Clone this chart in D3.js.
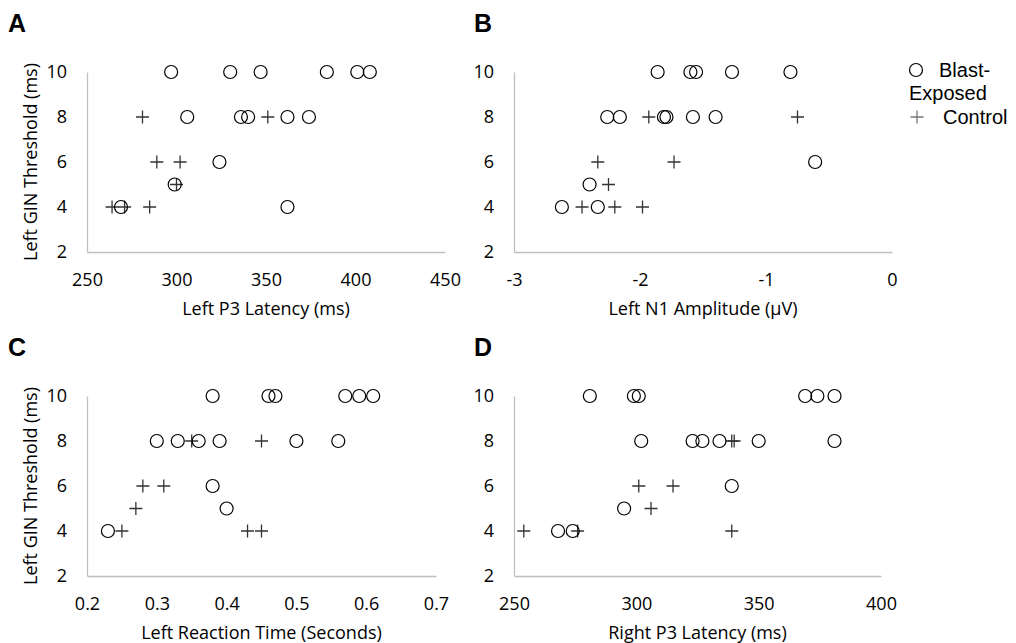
<!DOCTYPE html>
<html>
<head>
<meta charset="utf-8">
<script src="https://cdn.jsdelivr.net/npm/d3@7"></script>
<style>
  body { margin: 0; background: #fff; }
  svg { display: block; }
  .tick text { font-family: "Open Sans", sans-serif; font-size: 18px; fill: #000; }
  .title { font-family: "Open Sans", sans-serif; font-size: 18px; fill: #000; }
  .letter { font-family: "Liberation Sans", Arial, sans-serif; font-size: 25px; font-weight: bold; }
  .legend { font-family: "Liberation Sans", Arial, sans-serif; font-size: 20px; }
</style>
</head>
<body>
<svg width="1016" height="643"></svg>
<script>
// y values are the Left GIN threshold (ms)
var yTicks = [2, 4, 6, 8, 10];

// A: Left P3 latency
var aBlastX = [297, 330, 347, 384, 401, 408, 306, 336, 340, 362, 374, 324, 299, 269, 362];
var aBlastY = [10, 10, 10, 10, 10, 10, 8, 8, 8, 8, 8, 6, 5, 4, 4];
var aCtrlX = [281, 351, 289, 302, 300, 264, 271, 285];
var aCtrlY = [8, 8, 6, 6, 5, 4, 4, 4];
var aTicks = [250, 300, 350, 400, 450];

// B: Left N1 amplitude
var bBlastX = [-1.86, -1.60, -1.555, -1.27, -0.806, -2.26, -2.16, -1.81, -1.79, -1.58, -1.40, -0.61, -2.40, -2.62, -2.335];
var bBlastY = [10, 10, 10, 10, 10, 8, 8, 8, 8, 8, 8, 6, 5, 4, 4];
var bCtrlX = [-1.93, -0.75, -2.335, -1.73, -2.25, -2.46, -2.20, -1.98];
var bCtrlY = [8, 8, 6, 6, 5, 4, 4, 4];
var bTicks = [-3, -2, -1, 0];

// C: Left reaction time
var cBlastX = [0.38, 0.46, 0.47, 0.57, 0.59, 0.61, 0.30, 0.33, 0.36, 0.39, 0.50, 0.56, 0.38, 0.40, 0.23];
var cBlastY = [10, 10, 10, 10, 10, 10, 8, 8, 8, 8, 8, 8, 6, 5, 4];
var cCtrlX = [0.35, 0.45, 0.28, 0.31, 0.27, 0.25, 0.43, 0.45];
var cCtrlY = [8, 8, 6, 6, 5, 4, 4, 4];
var cTicks = [0.2, 0.3, 0.4, 0.5, 0.6, 0.7];

// D: Right P3 latency
var dBlastX = [281, 299, 301, 369, 374, 381, 302, 323, 327, 334, 350, 381, 339, 295, 268, 274];
var dBlastY = [10, 10, 10, 10, 10, 10, 8, 8, 8, 8, 8, 8, 6, 5, 4, 4];
var dCtrlX = [339, 340, 301, 315, 306, 254, 276, 339];
var dCtrlY = [8, 8, 6, 6, 5, 4, 4, 4];
var dTicks = [250, 300, 350, 400];

var svg = d3.select('svg');
var circleR = 6.5;
var plusH = 6.5;

function plusPath(x, y) {
    return 'M' + (x - plusH) + ',' + y + 'H' + (x + plusH) + 'M' + x + ',' + (y - plusH) + 'V' + (y + plusH);
}

function drawPanel(p) {
    var x = d3.scaleLinear().domain([p.xTicks[0], p.xTicks[p.xTicks.length - 1]]).range([p.left, p.right]);
    var y = d3.scaleLinear().domain([2, 10]).range([p.bottom, p.top]);
    var g = svg.append('g');

    var xa = g.append('g').attr('transform', 'translate(0,' + p.bottom + ')')
        .call(d3.axisBottom(x).tickValues(p.xTicks).tickFormat(p.fmt).tickSize(0).tickPadding(21));
    var ya = g.append('g').attr('transform', 'translate(' + p.left + ',0)')
        .call(d3.axisLeft(y).tickValues(yTicks).tickSize(0).tickPadding(20));
    [xa, ya].forEach(function (a) {
        a.select('.domain').attr('stroke', '#bfbfbf').attr('stroke-width', 1.3);
        a.attr('font-family', null).attr('font-size', null);
    });

    // control first, circles on top
    g.selectAll('.ctrl').data(p.cx).enter().append('path')
        .attr('class', 'ctrl')
        .attr('d', function (d, i) { return plusPath(x(d), y(p.cy[i])); })
        .attr('stroke', '#333').attr('stroke-width', 1.3).attr('fill', 'none');

    g.selectAll('.blast').data(p.bx).enter().append('circle')
        .attr('class', 'blast')
        .attr('cx', function (d) { return x(d); })
        .attr('cy', function (d, i) { return y(p.by[i]); })
        .attr('r', circleR)
        .attr('fill', 'none').attr('stroke', '#000').attr('stroke-width', 1.2);

    g.append('text').attr('class', 'title')
        .attr('x', (p.left + p.right) / 2).attr('y', p.bottom + 63)
        .attr('text-anchor', 'middle').text(p.xTitle);

    if (p.yTitle) {
        g.append('text').attr('class', 'title')
            .attr('transform', 'translate(37,' + (p.top + p.bottom) / 2 + ') rotate(-90)')
            .attr('text-anchor', 'middle').text(p.yTitle);
    }

    g.append('text').attr('class', 'letter')
        .attr('x', p.lx).attr('y', p.top - 40).text(p.letter);
}

var yTitle = 'Left GIN Threshold (ms)';

drawPanel({ letter: 'A', lx: 8, left: 87, right: 445, top: 72, bottom: 252,
    xTicks: aTicks, fmt: d3.format('d'), bx: aBlastX, by: aBlastY, cx: aCtrlX, cy: aCtrlY,
    xTitle: 'Left P3 Latency (ms)', yTitle: yTitle });
drawPanel({ letter: 'B', lx: 474, left: 514, right: 892, top: 72, bottom: 252,
    xTicks: bTicks, fmt: function (d) { return String(d); }, bx: bBlastX, by: bBlastY, cx: bCtrlX, cy: bCtrlY,
    xTitle: 'Left N1 Amplitude (\u03bcV)' });
drawPanel({ letter: 'C', lx: 8, left: 87, right: 436, top: 396, bottom: 576,
    xTicks: cTicks, fmt: d3.format('.1f'), bx: cBlastX, by: cBlastY, cx: cCtrlX, cy: cCtrlY,
    xTitle: 'Left Reaction Time (Seconds)', yTitle: yTitle });
drawPanel({ letter: 'D', lx: 474, left: 514, right: 881, top: 396, bottom: 576,
    xTicks: dTicks, fmt: d3.format('d'), bx: dBlastX, by: dBlastY, cx: dCtrlX, cy: dCtrlY,
    xTitle: 'Right P3 Latency (ms)' });

// legend
var leg = svg.append('g');
leg.append('circle').attr('cx', 916).attr('cy', 70).attr('r', circleR)
    .attr('fill', 'none').attr('stroke', '#000').attr('stroke-width', 1.2);
leg.append('text').attr('class', 'legend').attr('x', 939).attr('y', 77).text('Blast-');
leg.append('text').attr('class', 'legend').attr('x', 909).attr('y', 100).text('Exposed');
leg.append('path').attr('d', plusPath(917, 117)).attr('stroke', '#777').attr('stroke-width', 1.3);
leg.append('text').attr('class', 'legend').attr('x', 943).attr('y', 124).text('Control');
</script>
</body>
</html>
